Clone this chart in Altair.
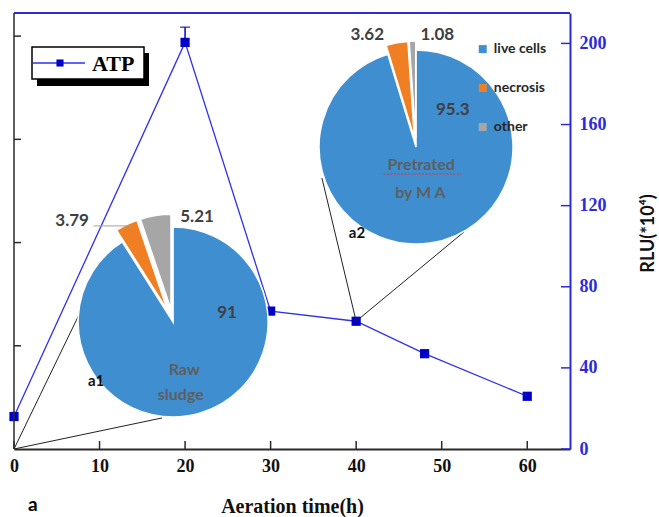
import altair as alt
import numpy as np
import pandas as pd

# ATP time course
hours = [0, 20, 30, 40, 48, 60]
rlu = [16, 200.5, 68, 63, 47, 26]
err_hour = [20]
err_high = [208]

# cell-state composition (%)
slices = ["live cells", "necrosis", "other"]
raw_sludge = [91, 3.79, 5.21]
pretreated = [95.3, 3.62, 1.08]
slice_colors = ["#3f8fd0", "#f07f23", "#a6a6a6"]

x_ticks = [0, 10, 20, 30, 40, 50, 60]
y_ticks = [0, 40, 80, 120, 160, 200]
left_ticks = [50.9, 101.8, 152.7, 203.6]

W, H = 556, 436
XMAX, YMAX = 65, 215
BLUE = "#2b2bd9"
LINE_BLUE = "#3030f0"
MARK_BLUE = "#0000c8"

xs = alt.Scale(domain=[0, XMAX], nice=False, zero=False)
ys = alt.Scale(domain=[0, YMAX], nice=False, zero=False)

xaxis = alt.Axis(
    values=x_ticks, title="Aeration time(h)", grid=False,
    domainColor="#2a2a2a", domainWidth=2, tickSize=0,
    labelFont="Liberation Serif", labelFontWeight="bold", labelFontSize=18,
    labelColor="#111111", labelPadding=8, labelFlush=False,
    titleFont="Liberation Serif", titleFontWeight="bold", titleFontSize=20,
    titleColor="#111111", titleY=57, titleBaseline="middle",
)
yaxis = alt.Axis(
    orient="right", values=y_ticks, title="RLU(*10⁴)", grid=False,
    domainColor=BLUE, domainWidth=2, tickSize=0,
    labelFont="Liberation Serif", labelFontWeight="bold", labelFontSize=18,
    labelColor=BLUE, labelPadding=9, labelFlush=False,
    titleFont="Lato", titleFontWeight="bold", titleFontSize=18,
    titleColor="#111111", titleAngle=270, titleX=78, titleY=220,
    titleAlign="center", titleBaseline="middle",
)


def X(field):
    return alt.X(field, type="quantitative", scale=xs, axis=xaxis)


def Y(field):
    return alt.Y(field, type="quantitative", scale=ys, axis=yaxis)


one = pd.DataFrame({"k": [0]})

# ---- frame and inward ticks ----
top_border = alt.Chart(one).mark_rule(color=BLUE, strokeWidth=2).encode(
    x=alt.value(0), x2=alt.value(W), y=alt.value(0))
left_border = alt.Chart(one).mark_rule(color="#2a2a2a", strokeWidth=1.5).encode(
    x=alt.value(0), y=alt.value(0), y2=alt.value(H))
bottom_ticks = alt.Chart(pd.DataFrame({"t": x_ticks})).mark_rule(
    color="#2a2a2a", strokeWidth=1.5).encode(
    x=X("t"), y=alt.value(H), y2=alt.value(H - 8))
right_ticks = alt.Chart(pd.DataFrame({"t": y_ticks})).mark_rule(
    color=BLUE, strokeWidth=1.5).encode(
    y=Y("t"), x=alt.value(W - 9), x2=alt.value(W))
left_tick_marks = alt.Chart(pd.DataFrame({"t": left_ticks})).mark_rule(
    color="#2a2a2a", strokeWidth=1.5).encode(
    y=Y("t"), x=alt.value(0), x2=alt.value(7))

# ---- ATP series ----
atp = pd.DataFrame({"h": hours, "v": rlu})
err = pd.DataFrame({"h": err_hour, "hi": err_high,
                    "v": [rlu[hours.index(h)] for h in err_hour]})
line = alt.Chart(atp).mark_line(color=LINE_BLUE, strokeWidth=1.3).encode(x=X("h"), y=Y("v"))
pts = alt.Chart(atp).mark_square(size=85, color=MARK_BLUE, opacity=1).encode(x=X("h"), y=Y("v"))
err_rule = alt.Chart(err).mark_rule(color=MARK_BLUE, strokeWidth=1.5).encode(
    x=X("h"), y=Y("v"), y2="hi")
err_cap = alt.Chart(err).mark_tick(orient="horizontal", size=10, thickness=1.5,
                                   color=MARK_BLUE).encode(x=X("h"), y=Y("hi"))

# ---- callout lines from the sampling points to the pies ----
callouts = pd.DataFrame({
    "x": [0, 0, 40, 40],
    "y": [0, 0, 63, 63],
    "x2": [7.7, 17.3, 36.0, 52.6],
    "y2": [67.1, 15.3, 133.6, 107.0],
})
callout_lines = alt.Chart(callouts).mark_rule(color="#222222", strokeWidth=1).encode(
    x=X("x"), y=Y("y"), x2="x2", y2="y2")


# ---- pies ----
def pie_table(values, cx, cy, explode_px):
    total = sum(values)
    rows, start = [], 0.0
    for name, v, col in zip(slices, values, slice_colors):
        end = start + v / total * 2 * np.pi
        mid = (start + end) / 2
        e = 0 if name == "live cells" else explode_px
        rows.append(dict(
            slice=name, value=v, t0=start, t1=end, color=col,
            x=cx + e * np.sin(mid) / (W / XMAX),
            y=cy + e * np.cos(mid) / (H / YMAX),
        ))
        start = end
    return pd.DataFrame(rows)


def pie(df, r):
    return alt.Chart(df).mark_arc(radius=r, stroke="white", strokeWidth=1.5).encode(
        x=X("x"), y=Y("y"),
        theta=alt.Theta("t0:Q", scale=None, stack=None),
        theta2="t1",
        color=alt.Color("color:N", scale=None),
    )


pie1 = pie(pie_table(raw_sludge, 18.6, 62.6, 13), 95)
pie2 = pie(pie_table(pretreated, 47.0, 148.9, 9), 97)

# percentage labels
num_labels = pd.DataFrame({
    "x": [24.9, 6.8, 21.4, 51.3, 41.3, 49.5],
    "y": [67.1, 112.4, 114.4, 167.2, 204.1, 204.1],
    "txt": [f"{v:g}" for v in raw_sludge + pretreated],
})
nums = alt.Chart(num_labels).mark_text(
    font="Lato", fontWeight="bold", fontSize=17, color="#404040",
    baseline="middle").encode(x=X("x"), y=Y("y"), text="txt:N")

leader = alt.Chart(pd.DataFrame({"x": [9.3], "x2": [13.6], "y": [110.0]})).mark_rule(
    color="#a0a0a0", strokeWidth=1).encode(x=X("x"), x2="x2", y=Y("y"))

captions = pd.DataFrame({
    "x": [19.9, 19.5, 47.6, 47.5],
    "y": [39.0, 26.6, 140.0, 126.2],
    "txt": ["Raw", "sludge", "Pretrated", "by  M A"],
})
caps = alt.Chart(captions).mark_text(
    font="Lato", fontWeight="bold", fontSize=16, color="#5e5e5e",
    baseline="middle").encode(x=X("x"), y=Y("y"), text="txt:N")
squiggle = alt.Chart(pd.DataFrame({"x": [43.2], "x2": [52.3], "y": [135.6]})).mark_rule(
    color="#e03030", strokeWidth=1.2, strokeDash=[2, 1.5]).encode(
    x=X("x"), x2="x2", y=Y("y"))

tags = pd.DataFrame({"x": [9.6, 40.1], "y": [33.5, 106.5], "txt": ["a1", "a2"]})
tag_text = alt.Chart(tags).mark_text(
    font="Lato", fontWeight="bold", fontSize=15, color="#111111",
    baseline="middle").encode(x=X("x"), y=Y("y"), text="txt:N")

# pie legend
pie_leg = pd.DataFrame({"slice": slices, "color": slice_colors,
                        "x": [54.8] * 3, "tx": [56.1] * 3,
                        "y": [197.2, 178.0, 158.8]})
leg_sq = alt.Chart(pie_leg).mark_square(size=64, opacity=1).encode(
    x=X("x"), y=Y("y"), color=alt.Color("color:N", scale=None))
leg_txt = alt.Chart(pie_leg).mark_text(
    font="Lato", fontWeight="bold", fontSize=14, color="#262626",
    align="left", baseline="middle").encode(x=X("tx"), y=Y("y"), text="slice:N")

# ATP legend box with drop shadow
shadow = alt.Chart(one).mark_rect(color="black").encode(
    x=alt.value(23), x2=alt.value(135), y=alt.value(40), y2=alt.value(73))
box = alt.Chart(one).mark_rect(fill="white", stroke="black", strokeWidth=1.5).encode(
    x=alt.value(18), x2=alt.value(130), y=alt.value(34), y2=alt.value(66))
box_line = alt.Chart(one).mark_rule(color=LINE_BLUE, strokeWidth=1.3).encode(
    x=alt.value(19), x2=alt.value(71), y=alt.value(50))
box_pt = alt.Chart(one).mark_square(size=50, color=MARK_BLUE, opacity=1).encode(
    x=alt.value(46), y=alt.value(50))
box_txt = alt.Chart(pd.DataFrame({"t": ["ATP"]})).mark_text(
    font="Liberation Serif", fontWeight="bold", fontSize=22, color="black",
    align="left", baseline="alphabetic").encode(
    x=alt.value(78), y=alt.value(58), text="t:N")

panel = alt.Chart(pd.DataFrame({"t": ["a"]})).mark_text(
    font="Lato", fontWeight="bold", fontSize=19, color="black",
    align="left", baseline="middle").encode(
    x=alt.value(14), y=alt.value(492), text="t:N")

chart = alt.layer(
    line, err_rule, err_cap, pts,
    bottom_ticks, right_ticks, left_tick_marks, top_border, left_border,
    callout_lines, pie1, pie2, leader, nums, caps, squiggle, tag_text,
    leg_sq, leg_txt, shadow, box, box_line, box_pt, box_txt, panel,
).properties(
    width=W, height=H,
    autosize=alt.AutoSizeParams(type="none"),
    padding={"left": 14, "top": 13, "right": 89, "bottom": 68},
    background="white",
).configure_view(stroke=None)

chart.save("out.html", embed_options={"renderer": "svg", "actions": False})
